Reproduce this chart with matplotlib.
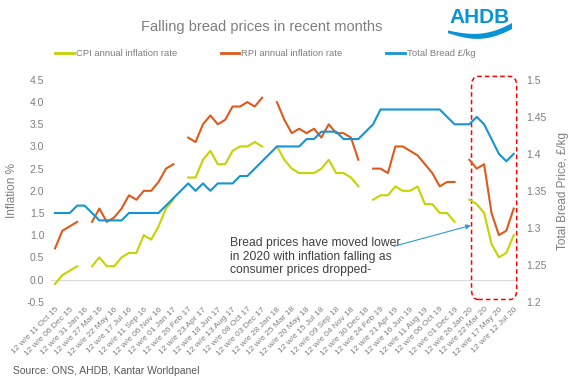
import numpy as np
import pandas as pd
import matplotlib
matplotlib.use("Agg")
import matplotlib.pyplot as plt
from matplotlib.patches import FancyBboxPatch, Polygon
from matplotlib.lines import Line2D

plt.rcParams['font.family'] = ['Liberation Sans', 'DejaVu Sans']

nan = np.nan

# 4-weekly periods, labelled by week ending
period_end = pd.date_range("2015-10-11", periods=63, freq="28D")
tick_labels = [f"12 w/e {d:%d %b %y}" for d in period_end[::2]]

cpi = [-0.1, 0.1, 0.2, 0.3, nan, 0.3, 0.5, 0.3, 0.3, 0.5, 0.6, 0.6, 1.0, 0.9, 1.2, 1.6, 1.8, nan,
       2.3, 2.3, 2.7, 2.9, 2.6, 2.6, 2.9, 3.0, 3.0, 3.1, 3.0, nan,
       3.0, 2.7, 2.5, 2.4, 2.4, 2.4, 2.5, 2.7, 2.4, 2.4, 2.3, 2.1, nan,
       1.8, 1.9, 1.9, 2.1, 2.0, 2.0, 2.1, 1.7, 1.7, 1.5, 1.5, 1.3, nan,
       1.8, 1.7, 1.5, 0.8, 0.5, 0.6, 1.0]
rpi = [0.7, 1.1, 1.2, 1.3, nan, 1.3, 1.6, 1.3, 1.4, 1.6, 1.9, 1.8, 2.0, 2.0, 2.2, 2.5, 2.6, nan,
       3.2, 3.1, 3.5, 3.7, 3.5, 3.6, 3.9, 3.9, 4.0, 3.9, 4.1, nan,
       4.0, 3.6, 3.3, 3.4, 3.3, 3.4, 3.2, 3.5, 3.3, 3.3, 3.2, 2.7, nan,
       2.5, 2.5, 2.4, 3.0, 3.0, 2.9, 2.8, 2.6, 2.4, 2.1, 2.2, 2.2, nan,
       2.7, 2.5, 2.6, 1.5, 1.0, 1.1, 1.6]
bread = [1.32, 1.32, 1.32, 1.33, 1.33, 1.32, 1.31, 1.31, 1.31, 1.31,
         1.32, 1.32, 1.32, 1.32, 1.32, 1.33, 1.34, 1.35, 1.36, 1.35,
         1.36, 1.35, 1.36, 1.36, 1.36, 1.37, 1.37, 1.38, 1.39, 1.40,
         1.41, 1.41, 1.41, 1.41, 1.42, 1.42, 1.43, 1.43, 1.43, 1.42,
         1.42, 1.42, 1.43, 1.44, 1.46, 1.46, 1.46, 1.46, 1.46, 1.46,
         1.46, 1.46, 1.46, 1.45, 1.44, 1.44, 1.44, 1.45, 1.44, 1.42,
         1.40, 1.39, 1.40]

c_cpi = "#c5d300"
c_rpi = "#de5a1c"
c_bread = "#1594d3"
grey = "#7f7f7f"

fig = plt.figure(figsize=(5.73, 3.88), dpi=100)
ax = fig.add_axes([0.0895, 0.2224, 0.8135, 0.5716])
ax2 = ax.twinx()

x = np.arange(len(period_end))
ax.plot(x, cpi, color=c_cpi, lw=1.5, label="CPI annual inflation rate")
ax.plot(x, rpi, color=c_rpi, lw=1.5, label="RPI annual inflation rate")
ax2.plot(x, bread, color=c_bread, lw=1.5, label="Total Bread £/kg")

ax.set_xlim(-0.5, len(x) - 0.5)
ax.set_ylim(-0.5, 4.5)
ax2.set_ylim(1.2, 1.5)
ax.set_yticks(np.arange(-0.5, 4.51, 0.5))
ax.set_yticklabels([f"{v:.1f}" for v in np.arange(-0.5, 4.51, 0.5)])
r_ticks = [1.2, 1.25, 1.3, 1.35, 1.4, 1.45, 1.5]
ax2.set_yticks(r_ticks)
ax2.set_yticklabels([f"{v:g}" for v in r_ticks])
ax.set_xticks(x[::2])
ax.set_xticklabels(tick_labels, rotation=45, ha="right", va="top",
                   rotation_mode="anchor", fontsize=6, color=grey)

for a in (ax, ax2):
    for s in a.spines.values():
        s.set_visible(False)
    a.tick_params(length=0, colors=grey, labelsize=7.5)
ax.tick_params(axis="y", pad=5)
ax2.tick_params(axis="y", pad=6)
ax.tick_params(axis="x", pad=3, labelsize=6)
ax.axhline(0, color="#d9d9d9", lw=0.8, zorder=0)

ax.set_ylabel("Inflation %", color=grey, fontsize=8.5, labelpad=6)
ax2.set_ylabel("Total Bread Price, £/kg", color=grey, fontsize=8.5, labelpad=8)

# highlight box around 2020
box = FancyBboxPatch((56.3, -0.45), 6.1, 5.03, boxstyle="round,pad=0,rounding_size=0.9",
                     transform=ax.transData, fill=False, edgecolor="#ff0000",
                     lw=1.1, linestyle=(0, (3, 2)), clip_on=False, mutation_aspect=0.25)
ax.add_patch(box)

ax.text(23.7, 0.95, "Bread prices have moved lower\nin 2020 with inflation falling as\nconsumer prices dropped-",
        fontsize=8.7, color="#404040", va="top", ha="left", linespacing=1.15)
ax.annotate("", xy=(56.2, 1.22), xytext=(45.8, 0.75),
            arrowprops=dict(arrowstyle="-|>", color="#2d9bd8", lw=0.8,
                            mutation_scale=7, shrinkA=0, shrinkB=0))

fig.text(0.456, 0.93, "Falling bread prices in recent months", ha="center", va="center",
         fontsize=10.5, color=grey)

handles = [Line2D([], [], color=c, lw=2) for c in (c_cpi, c_rpi, c_bread)]
fig.legend(handles, ["CPI annual inflation rate", "RPI annual inflation rate", "Total Bread £/kg"],
           loc="center", bbox_to_anchor=(0.463, 0.861), ncol=3, frameon=False,
           fontsize=6.8, labelcolor=grey, handlelength=2.0, handletextpad=0.2,
           columnspacing=4.6)

fig.text(0.022, 0.045, "Source: ONS, AHDB, Kantar Worldpanel", fontsize=7.5, color="#595959",
         va="center", ha="left")

# AHDB logo
lax = fig.add_axes([448 / 573, 1 - 40 / 388, 64 / 573, 34 / 388])
lax.set_xlim(0, 1)
lax.set_ylim(0, 1)
lax.axis("off")
lax.text(0.5, 0.66, "AHDB", ha="center", va="center", fontsize=15, fontweight="bold",
         color="#0a93d5")
t = np.linspace(0, 1, 40)
top = 0.28 - 0.12 * np.sin(np.pi * t) + 0.22 * t ** 3
bot = 0.20 - 0.18 * np.sin(np.pi * t) + 0.12 * t ** 3
lax.add_patch(Polygon(np.column_stack([np.r_[t, t[::-1]], np.r_[top, bot[::-1]]]),
                      closed=True, color="#0a93d5", lw=0))

fig.savefig("out.png", dpi=100)
